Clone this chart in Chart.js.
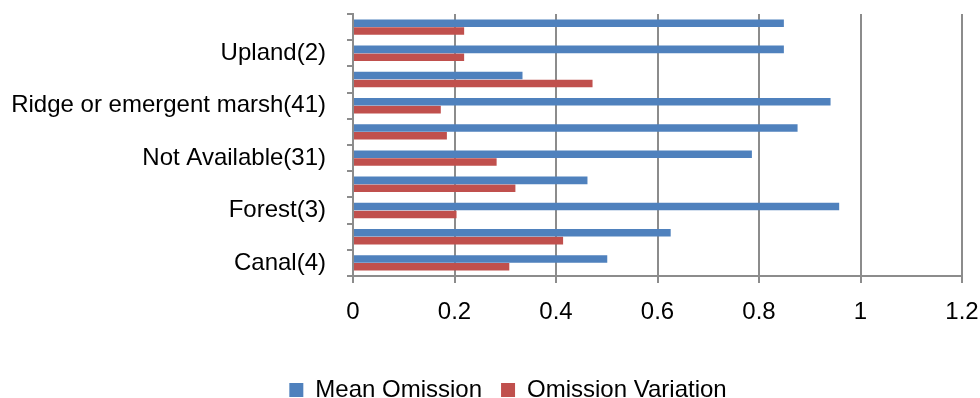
<!DOCTYPE html>
<html>
<head>
<meta charset="utf-8">
<script src="https://cdn.jsdelivr.net/npm/chart.js@4/dist/chart.umd.min.js"></script>
<style>
  html, body { margin: 0; padding: 0; overflow: hidden; background: #fff; }
  #wrap { width: 980px; height: 412px; position: relative; }
</style>
</head>
<body>
<div id="wrap"><canvas id="c"></canvas></div>
<script>
// Categories listed bottom-to-top (as in the reference). Only every other label is shown.
const categories = [
  "Canal(4)", "Cypress(5)", "Forest(3)", "Marl prairie(9)", "Not Available(31)",
  "Open water(12)", "Ridge or emergent marsh(41)", "Slough(6)", "Upland(2)", "Wet prairie(2)"
];
const meanOmission      = [0.501, 0.626, 0.958, 0.462, 0.786, 0.876, 0.941, 0.334, 0.849, 0.849];
const omissionVariation = [0.308, 0.414, 0.204, 0.320, 0.283, 0.185, 0.173, 0.472, 0.219, 0.219];
const seriesNames = ["Mean Omission", "Omission Variation"];
const xTicks = [0, 0.2, 0.4, 0.6, 0.8, 1, 1.2];

const FONT = "'Liberation Sans', Arial, sans-serif";
const GRID = '#8c8c8c';

const legendShift = {
  id: 'legendShift',
  afterLayout(chart) {
    if (chart.legend) { chart.legend.left = 54; }
  }
};

new Chart(document.getElementById('c'), {
  type: 'bar',
  data: {
    labels: categories,
    datasets: [
      { label: seriesNames[0], data: meanOmission, backgroundColor: '#4F81BD',
        borderColor: 'rgba(79,129,189,0.35)', borderWidth: 0,
        categoryPercentage: 0.6, barPercentage: 0.96 },
      { label: seriesNames[1], data: omissionVariation, backgroundColor: '#C0504D',
        borderColor: 'rgba(192,80,77,0.35)', borderWidth: 0,
        categoryPercentage: 0.6, barPercentage: 0.96 }
    ]
  },
  plugins: [legendShift],
  options: {
    indexAxis: 'y',
    responsive: true,
    maintainAspectRatio: false,
    animation: false,
    layout: { padding: { top: 14, right: 18, left: 0, bottom: 0 } },
    plugins: {
      legend: {
        position: 'bottom',
        labels: {
          boxWidth: 14, boxHeight: 14, padding: 19, color: '#000',
          font: { family: FONT, size: 24 }
        }
      },
      tooltip: { enabled: false }
    },
    scales: {
      x: {
        min: 0, max: 1.2,
        afterBuildTicks: (s) => { s.ticks = xTicks.map(v => ({ value: v })); },
        afterFit: (s) => { s.height = 83; s.paddingLeft = 0; s.paddingRight = 0; },
        ticks: {
          color: '#000', padding: 15,
          font: { family: FONT, size: 24 },
          callback: (v) => String(+v.toFixed(1))
        },
        grid: { color: GRID, lineWidth: 2, tickLength: 7, tickColor: GRID },
        border: { color: GRID, width: 2 }
      },
      y: {
        reverse: true,
        afterFit: (s) => { s.width = 353; s.paddingTop = 0; s.paddingBottom = 0; },
        ticks: {
          autoSkip: false, color: '#000', padding: 21,
          font: { family: FONT, size: 24 },
          callback: function (v, i) { return i % 2 === 0 ? this.getLabelForValue(v) : ''; }
        },
        grid: { offset: true, drawOnChartArea: false, tickLength: 6, color: GRID, lineWidth: 2 },
        border: { color: GRID, width: 2 }
      }
    }
  }
});
</script>
</body>
</html>
